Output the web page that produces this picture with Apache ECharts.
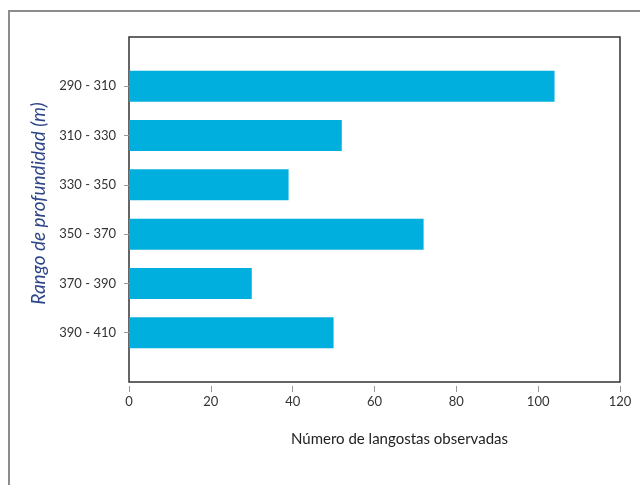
<!DOCTYPE html>
<html><head><meta charset="utf-8">
<script src="https://cdn.jsdelivr.net/npm/echarts@6/dist/echarts.min.js"></script>
<style>
html,body{margin:0;padding:0;background:#fff;}
#frame{position:absolute;left:8px;top:10px;width:700px;height:600px;border-left:2px solid #8c8c8c;border-top:2px solid #8c8c8c;box-sizing:border-box;}
#c{position:absolute;left:0;top:0;width:640px;height:485px;}
</style></head>
<body>
<div id="frame"></div>
<div id="c"></div>
<script>
var categories = ['290 - 310','310 - 330','330 - 350','350 - 370','370 - 390','390 - 410'];
var values = [104, 52, 39, 72, 30, 50];
var xTicks = [0, 20, 40, 60, 80, 100, 120];

var cats = [''].concat(categories).concat(['']);
var data = [null].concat(values).concat([null]);

var chart = echarts.init(document.getElementById('c'), null, {renderer:'canvas'});
chart.setOption({
  animation:false,
  grid:{left:129, right:20, top:37, bottom:103, show:true, borderColor:'#333', borderWidth:1.5, containLabel:false},
  xAxis:{
    type:'value', min:xTicks[0], max:xTicks[xTicks.length-1], interval:20,
    offset:4,
    axisLine:{show:false},
    axisTick:{show:true, length:6, lineStyle:{color:'#999'}},
    splitLine:{show:false},
    axisLabel:{margin:9, color:'#333', fontSize:13, fontFamily:'Lato'},
    name:'Número de langostas observadas', nameLocation:'middle', nameGap:46,
    nameTextStyle:{fontSize:15, color:'#222', fontFamily:'Lato', padding:[0,0,0,50]}
  },
  yAxis:{
    type:'category', data:cats, inverse:true, boundaryGap:false,
    offset:3,
    axisLine:{show:false},
    axisTick:{show:true, length:5, interval:function(i){return i>0 && i<cats.length-1;}, lineStyle:{color:'#999'}},
    axisLabel:{margin:10, color:'#333', fontSize:13, fontFamily:'Lato'},
    name:'Rango de profundidad (m)', nameLocation:'middle', nameGap:78,
    nameTextStyle:{fontSize:19, fontStyle:'italic', color:'#2e4687', fontFamily:'Lato', padding:[0,0,0,12]}
  },
  series:[{
    type:'bar', data:data, barWidth:31,
    itemStyle:{color:'#00afdd'}
  }]
});
</script>
</body></html>
